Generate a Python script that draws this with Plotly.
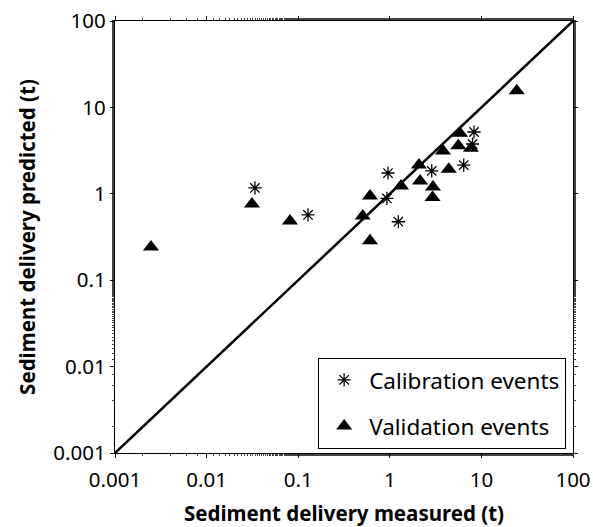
import plotly.graph_objects as go

# Calibration events: measured vs predicted sediment delivery (t)
calib_measured = [0.0337, 0.128, 0.955, 0.93, 1.24, 2.87, 6.41, 8.30, 8.0]
calib_predicted = [1.17, 0.569, 1.74, 0.883, 0.475, 1.84, 2.15, 5.19, 3.77]

# Validation events: measured vs predicted sediment delivery (t)
valid_measured = [0.00247, 0.0313, 0.0813, 0.506, 0.608, 0.608, 1.325, 2.08,
                  2.14, 2.96, 2.93, 3.81, 4.40, 5.60, 5.84, 7.69, 24.3]
valid_predicted = [0.242, 0.76, 0.484, 0.553, 0.943, 0.286, 1.23, 2.15,
                   1.41, 1.20, 0.906, 3.13, 1.92, 3.60, 5.01, 3.36, 15.6]

# 1:1 reference line
one_to_one = [0.001, 100]

tick_vals = [0.001, 0.01, 0.1, 1, 10, 100]
tick_text = ["0.001", "0.01", "0.1", "1", "10", "100"]

FONT = "Noto Sans"

fig = go.Figure()

fig.add_trace(go.Scatter(
    x=one_to_one, y=one_to_one, mode="lines",
    line=dict(color="black", width=2.5),
    showlegend=False, hoverinfo="skip",
))

fig.add_trace(go.Scatter(
    x=calib_measured, y=calib_predicted, mode="markers",
    name="Calibration events", legendgroup="calib",
    marker=dict(symbol="asterisk-open", size=11, color="black",
                line=dict(color="black", width=1.3)),
))

fig.add_trace(go.Scatter(
    x=valid_measured, y=valid_predicted, mode="markers",
    name="Validation events", legendgroup="valid",
    marker=dict(symbol="triangle-up", size=14, color="black",
                line=dict(width=0)),
))

axis_common = dict(
    type="log",
    tickvals=tick_vals,
    ticktext=tick_text,
    showgrid=False,
    zeroline=False,
    showline=True,
    linecolor="black",
    linewidth=1.3,
    mirror="allticks",
    ticks="outside",
    ticklen=4,
    tickwidth=1,
    tickcolor="black",
    minor=dict(ticks="outside", ticklen=2, tickwidth=0.7, tickcolor="#444",
               showgrid=False),
    tickfont=dict(family=FONT, size=20.5, color="black"),
    automargin=False,
)

fig.update_xaxes(
    range=[-3, 2],
    ticklabelstandoff=4,
    title=dict(text="<b>Sediment delivery measured (t)</b>",
               font=dict(family=FONT, size=20.5, color="black"), standoff=16),
    **axis_common,
)
fig.update_yaxes(
    range=[-3, 2],
    title=dict(text="<b>Sediment delivery predicted (t)</b>",
               font=dict(family=FONT, size=20.5, color="black"), standoff=12),
    **axis_common,
)

fig.update_layout(
    width=593, height=527,
    margin=dict(l=115, r=20, t=21, b=74),
    paper_bgcolor="white",
    plot_bgcolor="white",
    font=dict(family=FONT, color="black"),
    legend=dict(
        x=0.985, y=0.01, xanchor="right", yanchor="bottom",
        bordercolor="black", borderwidth=1, bgcolor="white",
        font=dict(family=FONT, size=22.5, color="black"),
        tracegroupgap=14,
        itemwidth=40,
    ),
)

fig.write_html("out.html")
